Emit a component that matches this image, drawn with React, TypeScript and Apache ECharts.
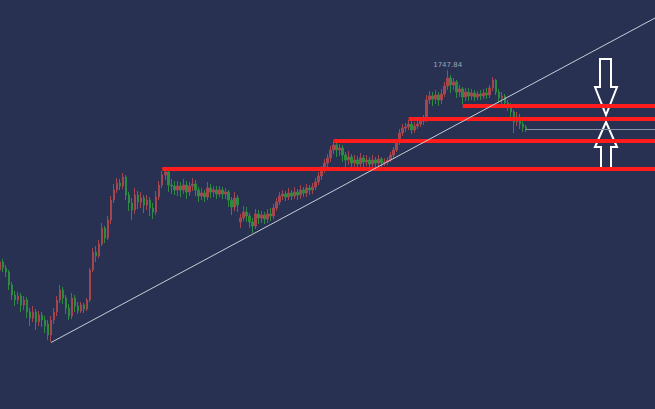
import React, { useEffect, useRef } from "react";
import * as echarts from "echarts";

// [open, close, low, high]
const candles: number[][] = [
  [1348,1364,1340,1372],[1364,1352,1344,1370],[1352,1344,1334,1358],[1344,1318,1308,1348],[1318,1298,1288,1324],
  [1298,1288,1276,1306],[1288,1296,1280,1304],[1296,1278,1264,1302],[1278,1288,1268,1296],[1288,1264,1252,1294],
  [1264,1252,1236,1272],[1252,1264,1244,1276],[1264,1244,1228,1270],[1244,1258,1236,1266],[1258,1248,1234,1264],
  [1248,1236,1222,1256],[1240,1218,1208,1248],[1218,1248,1204,1256],[1248,1264,1240,1272],[1264,1288,1256,1296],
  [1288,1308,1282,1318],[1308,1292,1280,1314],[1292,1272,1260,1298],[1272,1256,1248,1280],[1256,1292,1250,1302],
  [1292,1276,1264,1298],[1276,1266,1260,1284],[1266,1278,1262,1284],[1278,1270,1262,1282],[1270,1288,1266,1292],
  [1288,1348,1284,1352],[1348,1384,1344,1392],[1384,1376,1364,1396],[1376,1400,1372,1408],[1400,1432,1396,1442],
  [1432,1412,1402,1436],[1412,1448,1408,1456],[1448,1488,1440,1496],[1488,1508,1482,1520],[1508,1522,1502,1532],
  [1522,1516,1508,1530],[1516,1534,1510,1542],[1534,1498,1488,1538],[1498,1482,1466,1504],[1482,1468,1448,1492],
  [1468,1498,1460,1512],[1498,1484,1470,1506],[1484,1492,1472,1504],[1492,1478,1462,1498],[1478,1488,1468,1498],
  [1488,1472,1456,1494],[1472,1464,1450,1482],[1464,1494,1458,1506],[1494,1518,1488,1526],[1518,1538,1512,1546],
  [1538,1544,1528,1550],[1544,1518,1504,1548],[1518,1516,1500,1530],[1516,1508,1498,1526],[1508,1516,1496,1526],
  [1516,1508,1494,1524],[1508,1518,1500,1530],[1518,1504,1490,1526],[1504,1516,1496,1524],[1516,1520,1506,1532],
  [1520,1508,1496,1528],[1508,1496,1484,1514],[1496,1502,1488,1512],[1502,1494,1484,1508],[1494,1512,1488,1524],
  [1512,1504,1492,1520],[1504,1508,1494,1516],[1508,1500,1490,1516],[1500,1508,1494,1516],[1508,1500,1490,1514],
  [1500,1504,1490,1512],[1504,1488,1474,1508],[1488,1474,1458,1494],[1474,1492,1466,1504],[1492,1478,1464,1498],
  [1444,1452,1432,1460],[1452,1464,1446,1476],[1464,1456,1444,1474],[1456,1444,1432,1462],[1444,1436,1422,1452],
  [1436,1460,1430,1470],[1460,1452,1440,1468],[1452,1458,1442,1466],[1458,1450,1440,1464],[1450,1460,1442,1470],
  [1460,1456,1446,1472],[1456,1472,1450,1480],[1472,1484,1466,1492],[1484,1496,1478,1504],[1496,1500,1488,1508],
  [1500,1494,1486,1506],[1494,1502,1488,1512],[1502,1496,1488,1508],[1496,1504,1490,1514],[1504,1498,1488,1510],
  [1498,1508,1490,1518],[1508,1502,1494,1514],[1502,1512,1494,1520],[1512,1508,1498,1518],[1508,1514,1500,1522],
  [1514,1524,1508,1532],[1524,1536,1518,1544],[1536,1548,1528,1556],[1548,1562,1542,1570],[1562,1572,1554,1580],
  [1572,1588,1564,1596],[1588,1598,1580,1606],[1598,1588,1574,1602],[1588,1592,1576,1600],[1592,1578,1564,1598],
  [1578,1568,1554,1584],[1568,1574,1558,1586],[1574,1562,1552,1580],[1562,1568,1554,1578],[1568,1560,1550,1576],
  [1560,1572,1554,1582],[1572,1564,1552,1578],[1564,1568,1556,1578],[1568,1560,1550,1574],[1560,1568,1552,1578],
  [1568,1562,1554,1574],[1562,1570,1556,1578],[1570,1562,1554,1574],[1562,1564,1556,1572],[1564,1568,1558,1574],
  [1568,1578,1564,1584],[1578,1588,1572,1594],[1588,1604,1584,1610],[1604,1622,1598,1630],[1622,1632,1616,1640],
  [1632,1634,1624,1642],[1634,1640,1628,1648],[1640,1628,1620,1646],[1628,1636,1622,1644],[1636,1640,1630,1648],
  [1640,1646,1634,1654],[1646,1648,1638,1658],[1648,1688,1644,1698],[1688,1696,1680,1706],[1696,1690,1676,1704],
  [1690,1698,1680,1708],[1698,1688,1676,1704],[1688,1700,1680,1710],[1700,1716,1694,1724],[1716,1732,1708,1747.84],
  [1732,1718,1702,1738],[1718,1724,1708,1732],[1724,1704,1692,1728],[1704,1710,1694,1718],[1710,1694,1680,1714],
  [1694,1704,1686,1712],[1704,1696,1686,1712],[1696,1702,1688,1710],[1702,1694,1686,1708],[1694,1700,1688,1706],
  [1700,1696,1688,1708],[1696,1702,1690,1710],[1702,1698,1690,1712],[1698,1712,1692,1718],[1712,1728,1706,1734],
  [1728,1704,1698,1730],[1704,1692,1682,1710],[1692,1696,1680,1704],[1696,1682,1672,1700],[1682,1676,1666,1688],
  [1676,1664,1654,1682],[1664,1644,1622,1668],[1644,1654,1636,1664],[1654,1640,1630,1660],[1640,1634,1624,1646],
  [1634,1630,1624,1638],
];

const TOTAL_SLOTS = 219;
const categories: string[] = Array.from({ length: TOTAL_SLOTS }, (_, i) => String(i));

// horizontal support/resistance levels: [startIndex, price]
const levels: number[][] = [
  [154, 1676],
  [136, 1650],
  [111, 1606],
  [54, 1550],
];
const lastPrice = 1630;
const lastIndex = candles.length - 1;
// trend line endpoints: [index, price]
const trendLine: number[][] = [
  [17, 1203],
  [218, 1852],
];
const maxHigh = 1747.84;
const maxIndex = 149;

const Y_MIN = 1070;
const Y_MAX = 1888;
const BG = "#283151";

export default function App() {
  const ref = useRef<HTMLDivElement>(null);
  useEffect(() => {
    document.body.style.margin = "0";
    document.body.style.background = BG;
    if (!ref.current) return;
    const chart = echarts.init(ref.current, undefined, { renderer: "svg" });
    const endIdx = TOTAL_SLOTS - 1;
    const markLines: any[] = levels.map(([s, p]) => [
      { coord: [s, p], lineStyle: { color: "#ff1c1c", width: 4, type: "solid" } },
      { coord: [endIdx, p] },
    ]);
    markLines.push([
      { coord: [lastIndex, lastPrice], lineStyle: { color: "#8b91a3", width: 1, type: "solid" } },
      { coord: [endIdx, lastPrice] },
    ]);
    markLines.push([
      { coord: trendLine[0], lineStyle: { color: "#c9ccd8", width: 1, type: "solid" } },
      { coord: trendLine[1] },
    ]);
    chart.setOption({
      animation: false,
      backgroundColor: BG,
      grid: { left: 0, right: 0, top: 0, bottom: 0 },
      xAxis: {
        type: "category",
        data: categories,
        boundaryGap: false,
        show: false,
      },
      yAxis: {
        type: "value",
        min: Y_MIN,
        max: Y_MAX,
        show: false,
        splitLine: { show: false },
      },
      series: [
        {
          type: "candlestick",
          data: candles,
          barWidth: 2,
          itemStyle: {
            color: "#a5464e",
            color0: "#2e8a3f",
            borderColor: "#a5464e",
            borderColor0: "#2e8a3f",
            borderWidth: 1,
          },
          markLine: {
            silent: true,
            symbol: ["none", "none"],
            label: { show: false },
            data: markLines,
          },
          markPoint: {
            silent: true,
            symbol: "circle",
            symbolSize: 0,
            data: [
              {
                coord: [maxIndex, maxHigh],
                value: maxHigh,
                label: {
                  show: true,
                  position: "top",
                  distance: 2,
                  color: "#9ea5b8",
                  fontSize: 7,
                  fontFamily: "DejaVu Sans",
                  formatter: String(maxHigh),
                },
              },
            ],
          },
        },
      ],
      graphic: [
        {
          type: "polygon",
          shape: {
            points: [
              [600, 59], [611, 59], [611, 87], [617, 87], [606, 115], [595, 87], [600, 87],
            ],
          },
          style: { fill: BG, stroke: "#ffffff", lineWidth: 2 },
        },
        {
          type: "polygon",
          shape: {
            points: [
              [606, 122], [617, 147], [611, 147], [611, 169], [601, 169], [601, 147], [595, 147],
            ],
          },
          style: { fill: BG, stroke: "#ffffff", lineWidth: 2 },
        },
      ],
    });
    return () => chart.dispose();
  }, []);
  return <div ref={ref} style={{ width: 655, height: 409 }} />;
}
